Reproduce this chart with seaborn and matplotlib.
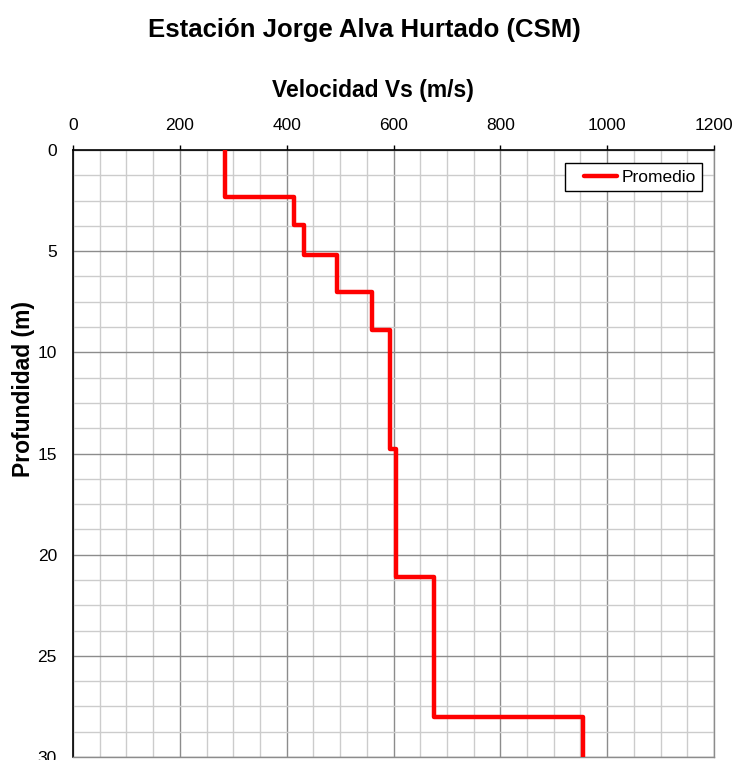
"""
Perfil de velocidad de ondas de corte (Vs) - Estación Jorge Alva Hurtado (CSM).
"""

import pandas as pd
import matplotlib
matplotlib.use("Agg")
import matplotlib.pyplot as plt
from matplotlib.ticker import MultipleLocator
from matplotlib.legend_handler import HandlerLine2D
from matplotlib.lines import Line2D
import seaborn as sns

# -- Datos ---------------------------------------------------------------------

# velocidad promedio de cada estrato (m/s)
VS_LAYERS = [285, 414, 433, 494, 559, 593, 605, 676, 955]
# profundidad de la base de cada estrato (m)
BOTTOM_DEPTHS = [2.3, 3.7, 5.2, 7.0, 8.9, 14.8, 21.1, 28.0, 30.0]

X_TICKS = [0, 200, 400, 600, 800, 1000, 1200]
Y_TICKS = [0, 5, 10, 15, 20, 25, 30]

TITLE = "Estación Jorge Alva Hurtado (CSM)"
X_LABEL = "Velocidad Vs (m/s)"
Y_LABEL = "Profundidad (m)"
SERIES = "Promedio"

# -- Estilo --------------------------------------------------------------------

sns.set_style("white")
plt.rcParams.update({
    "font.family": ["Liberation Sans", "DejaVu Sans"],
    "text.color": "black",
    "axes.labelcolor": "black",
    "xtick.color": "black",
    "ytick.color": "black",
})

MAJOR_GRID = "#8c8c8c"
MINOR_GRID = "#cccccc"
LINE_RED = "#ff0000"


def build_profile():
    """Convierte los estratos en vértices del perfil escalonado."""
    tops = [0.0] + BOTTOM_DEPTHS[:-1]
    vel, dep = [], []
    for v, top, bot in zip(VS_LAYERS, tops, BOTTOM_DEPTHS):
        vel += [v, v]
        dep += [top, bot]
    return pd.DataFrame({"vs": vel, "depth": dep, "serie": SERIES})


def main():
    df = build_profile()

    fig = plt.figure(figsize=(7.33, 7.60), dpi=100)
    ax = fig.add_axes([73 / 733, 3 / 760, 641 / 733, 607 / 760])

    sns.lineplot(data=df, x="vs", y="depth", hue="serie", sort=False,
                 palette=[LINE_RED], linewidth=3.2, estimator=None,
                 ax=ax, zorder=5, legend=False)

    ax.set_xlim(0, 1200)
    ax.set_ylim(30, 0)
    ax.set_xticks(X_TICKS)
    ax.set_yticks(Y_TICKS)
    ax.xaxis.set_minor_locator(MultipleLocator(50))
    ax.yaxis.set_minor_locator(MultipleLocator(1.25))

    # ejes estilo Excel: valores arriba, profundidad hacia abajo
    ax.xaxis.tick_top()
    ax.tick_params(axis="both", which="major", direction="out", length=3.6,
                   width=1, labelsize=12.5)
    ax.tick_params(axis="x", pad=8.5)
    ax.tick_params(axis="y", pad=8)
    ax.tick_params(which="minor", length=0)

    ax.grid(which="minor", color=MINOR_GRID, linewidth=1)
    ax.grid(which="major", color=MAJOR_GRID, linewidth=1)
    ax.set_axisbelow(True)

    for side in ["left", "top"]:
        ax.spines[side].set_color("black")
        ax.spines[side].set_linewidth(1.2)
    for side in ["right", "bottom"]:
        ax.spines[side].set_color(MAJOR_GRID)
        ax.spines[side].set_linewidth(1)

    ax.set_xlabel("")
    ax.set_ylabel("")
    fig.text(0.4969, 0.9517, TITLE, ha="center", va="baseline",
             fontsize=18.5, fontweight="bold")
    fig.text(0.5082, 0.8728, X_LABEL, ha="center", va="baseline",
             fontsize=16.5, fontweight="bold")
    fig.text(24 / 733, 0.4888, Y_LABEL, ha="center", va="center",
             rotation=90, fontsize=16.5, fontweight="bold")

    handle = Line2D([], [], color=LINE_RED, linewidth=3.2)
    leg = ax.legend([handle], [SERIES], loc="upper right",
                    bbox_to_anchor=(0.9817, 0.978), borderaxespad=0,
                    fontsize=12.5, frameon=True, fancybox=False,
                    handlelength=2.64, handletextpad=0.3, borderpad=0.35,
                    handler_map={Line2D: HandlerLine2D(xpad=0.75)})
    leg.get_frame().set_edgecolor("black")
    leg.get_frame().set_linewidth(1)
    leg.get_frame().set_alpha(1)

    fig.savefig("out.png", dpi=100)
    plt.close(fig)


if __name__ == "__main__":
    main()
